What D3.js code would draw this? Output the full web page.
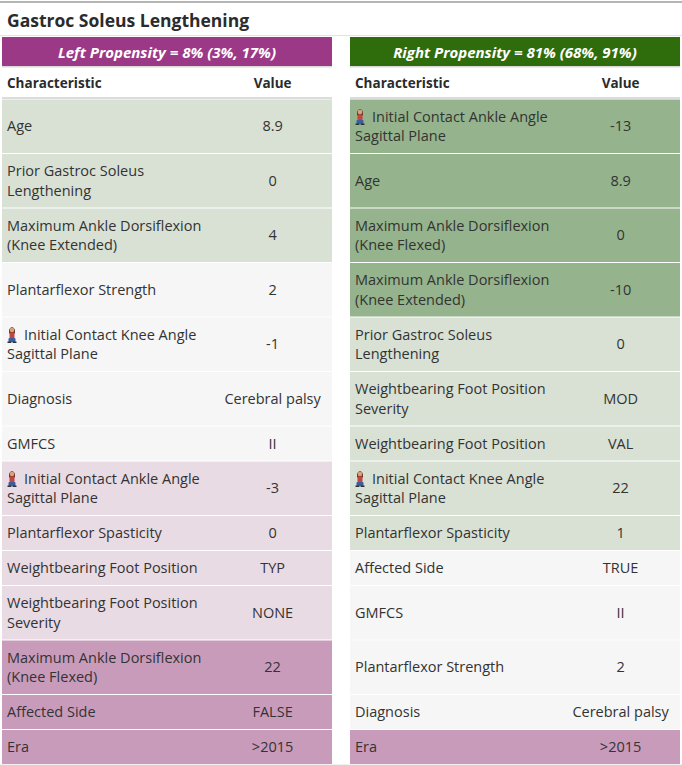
<!DOCTYPE html>
<html>
<head>
<meta charset="utf-8">
<script src="https://cdn.jsdelivr.net/npm/d3@7"></script>
<style>
  body { margin: 0; background: #fff; }
  svg { font-family: "Open Sans", "Noto Sans", sans-serif; }
</style>
</head>
<body>
<svg id="chart" width="682" height="765"></svg>
<script>
// table content
const title = "Gastroc Soleus Lengthening";
const leftTitle = "Left Propensity = 8% (3%, 17%)";
const rightTitle = "Right Propensity = 81% (68%, 91%)";
const colHeaders = ["Characteristic", "Value"];

const leftChars = ["Age", "Prior Gastroc Soleus Lengthening", "Maximum Ankle Dorsiflexion (Knee Extended)",
  "Plantarflexor Strength", "Initial Contact Knee Angle Sagittal Plane", "Diagnosis", "GMFCS",
  "Initial Contact Ankle Angle Sagittal Plane", "Plantarflexor Spasticity", "Weightbearing Foot Position",
  "Weightbearing Foot Position Severity", "Maximum Ankle Dorsiflexion (Knee Flexed)", "Affected Side", "Era"];
const leftValues = ["8.9", "0", "4", "2", "-1", "Cerebral palsy", "II", "-3", "0", "TYP", "NONE", "22", "FALSE", ">2015"];
const leftShade = ["lg", "lg", "lg", "w", "w", "w", "w", "lp", "lp", "lp", "lp", "dp", "dp", "dp"];

const rightChars = ["Initial Contact Ankle Angle Sagittal Plane", "Age", "Maximum Ankle Dorsiflexion (Knee Flexed)",
  "Maximum Ankle Dorsiflexion (Knee Extended)", "Prior Gastroc Soleus Lengthening", "Weightbearing Foot Position Severity",
  "Weightbearing Foot Position", "Initial Contact Knee Angle Sagittal Plane", "Plantarflexor Spasticity", "Affected Side",
  "GMFCS", "Plantarflexor Strength", "Diagnosis", "Era"];
const rightValues = ["-13", "8.9", "0", "-10", "0", "MOD", "VAL", "22", "1", "TRUE", "II", "2", "Cerebral palsy", ">2015"];
const rightShade = ["dg", "dg", "dg", "dg", "lg", "lg", "lg", "lg", "lg", "w", "w", "w", "w", "dp"];

// features shown with the little person icon
const iconChars = ["Initial Contact Ankle Angle Sagittal Plane", "Initial Contact Knee Angle Sagittal Plane"];

const shadeColor = d3.scaleOrdinal()
  .domain(["dg", "lg", "w", "lp", "dp"])
  .range(["#95b38c", "#d9e1d5", "#f6f6f6", "#e9dbe3", "#c99bbb"]);

const svg = d3.select("#chart");
const width = +svg.attr("width");

const panels = [
  { x0: 2, x1: 332, head: leftTitle, headColor: "#9c3987", chars: leftChars, vals: leftValues, shade: leftShade },
  { x0: 350, x1: 680, head: rightTitle, headColor: "#2f6c0c", chars: rightChars, vals: rightValues, shade: rightShade }
];

// measure text for wrapping
const measure = svg.append("text").attr("font-size", 14.5).attr("visibility", "hidden");
function textW(s) { measure.text(s); return measure.node().getComputedTextLength(); }
function wrap(s, maxW, indent) {
  const words = s.split(" ");
  const lines = [];
  let cur = "";
  words.forEach(w => {
    const test = cur ? cur + " " + w : w;
    const lim = lines.length === 0 ? maxW - indent : maxW;
    if (cur && textW(test) > lim) { lines.push(cur); cur = w; }
    else cur = test;
  });
  lines.push(cur);
  return lines;
}

const maxTextW = 205;
panels.forEach(p => {
  p.lines = p.chars.map(c => wrap(c, maxTextW, iconChars.includes(c) ? 17 : 0));
});
measure.remove();

// row heights synced between both tables
const rowStart = 99;
const lineH = 19.5;
const rowH = leftChars.map((c, i) => {
  const n = Math.max(panels[0].lines[i].length, panels[1].lines[i].length);
  return 35 + (n - 1) * lineH;
});
const rowY = [];
rowH.reduce((acc, h, i) => { rowY[i] = acc; return acc + h; }, rowStart);
const tableBottom = rowY[rowY.length - 1] + rowH[rowH.length - 1];

// frame lines
svg.append("line").attr("x1", 0).attr("x2", width).attr("y1", 2).attr("y2", 2)
  .attr("stroke", "#b5b5b5").attr("stroke-width", 2);
svg.append("line").attr("x1", 0).attr("x2", width).attr("y1", 35.5).attr("y2", 35.5)
  .attr("stroke", "#e3e3e3").attr("stroke-width", 1);

svg.append("text")
  .attr("x", 7).attr("y", 27)
  .attr("font-size", 17.5).attr("font-weight", 700).attr("fill", "#2b2b2b")
  .text(title);

function drawIcon(g, x, yMid) {
  const ic = g.append("g").attr("transform", `translate(${x},${yMid - 9})`);
  ic.append("path").attr("d", "M2,4 Q5,-1 8,4 L8,8 L2,8 Z").attr("fill", "#6b3b2a");
  ic.append("circle").attr("cx", 5).attr("cy", 4.5).attr("r", 2.3).attr("fill", "#d9a27c");
  ic.append("rect").attr("x", 2.5).attr("y", 7).attr("width", 5).attr("height", 6).attr("rx", 1).attr("fill", "#c7433e");
  ic.append("rect").attr("x", 1.5).attr("y", 12.5).attr("width", 7).attr("height", 4.5).attr("rx", 1).attr("fill", "#3a5f9e");
  ic.append("rect").attr("x", 0.5).attr("y", 16).attr("width", 3.5).attr("height", 1.5).attr("fill", "#333");
  ic.append("rect").attr("x", 6).attr("y", 16).attr("width", 3.5).attr("height", 1.5).attr("fill", "#333");
}

panels.forEach(p => {
  const g = svg.append("g");
  const w = p.x1 - p.x0;
  const valX = d3.scaleLinear().domain([0, 1]).range([p.x0, p.x1]);
  const valCenter = valX(0.82);

  // propensity header bar
  g.append("rect").attr("x", p.x0).attr("y", 37).attr("width", w).attr("height", 30).attr("fill", p.headColor);
  g.append("rect").attr("x", p.x0).attr("y", 66).attr("width", w).attr("height", 1.5).attr("fill", "#d9d9d9");
  g.append("text")
    .attr("x", p.x0 + w / 2).attr("y", 57.5)
    .attr("text-anchor", "middle").attr("font-size", 15)
    .attr("font-weight", 700).attr("font-style", "italic").attr("fill", "#fff")
    .text(p.head);

  // column headers
  g.append("text").attr("x", p.x0 + 5).attr("y", 88)
    .attr("font-size", 13.5).attr("font-weight", 700).attr("fill", "#2b2b2b").text(colHeaders[0]);
  g.append("text").attr("x", valCenter).attr("y", 88).attr("text-anchor", "middle")
    .attr("font-size", 13.5).attr("font-weight", 700).attr("fill", "#2b2b2b").text(colHeaders[1]);
  g.append("line").attr("x1", p.x0).attr("x2", p.x1).attr("y1", 98).attr("y2", 98)
    .attr("stroke", "#d0d0d0").attr("stroke-width", 1.5);

  // body rows
  const rows = g.selectAll("g.row")
    .data(p.chars.map((c, i) => ({ c, v: p.vals[i], s: p.shade[i], lines: p.lines[i], y: rowY[i], h: rowH[i] })))
    .join("g").attr("class", "row");

  rows.append("rect")
    .attr("x", p.x0).attr("y", d => d.y + 0.5)
    .attr("width", w).attr("height", d => d.h - 1)
    .attr("fill", d => shadeColor(d.s));

  rows.each(function (d) {
    const r = d3.select(this);
    const mid = d.y + d.h / 2;
    const n = d.lines.length;
    const firstY = mid - (n - 1) * lineH / 2 + 5;
    const hasIcon = iconChars.includes(d.c);
    if (hasIcon) drawIcon(r, p.x0 + 5, firstY - 5);
    d.lines.forEach((ln, k) => {
      r.append("text")
        .attr("x", p.x0 + 5 + (hasIcon && k === 0 ? 17 : 0))
        .attr("y", firstY + k * lineH)
        .attr("font-size", 14.5).attr("fill", "#333")
        .text(ln);
    });
    r.append("text")
      .attr("x", valCenter).attr("y", mid + 5)
      .attr("text-anchor", "middle").attr("font-size", 14.5).attr("fill", "#333")
      .text(d.v);
  });
});

svg.append("line").attr("x1", 0).attr("x2", width).attr("y1", tableBottom + 1).attr("y2", tableBottom + 1)
  .attr("stroke", "#c8c8c8").attr("stroke-width", 1.5);
</script>
</body>
</html>
